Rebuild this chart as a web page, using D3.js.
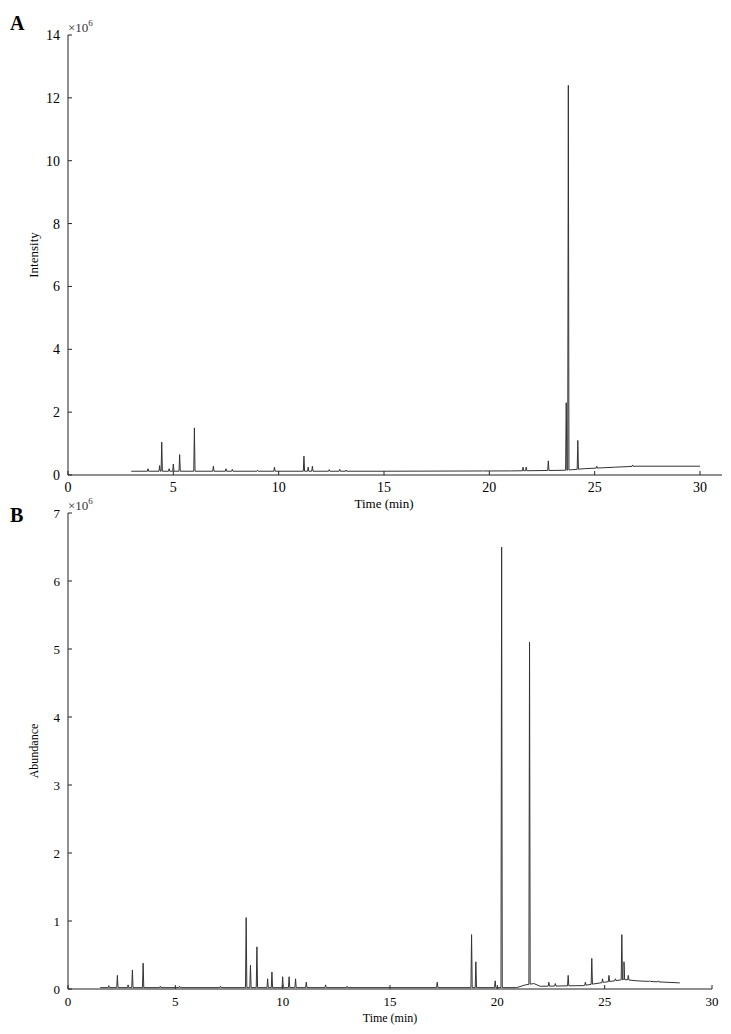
<!DOCTYPE html>
<html><head><meta charset="utf-8">
<script src="https://cdn.jsdelivr.net/npm/d3@7"></script>
<style>
body{margin:0;background:#fff;font-family:"Liberation Serif","DejaVu Serif",serif;}
text{font-family:"Liberation Serif",serif;}
</style></head><body>
<script>
// panel A: baseline points [time, value] and peaks [time, height] (x10^6)
var baseA = [[3.0,0.12],[15,0.12],[21,0.13],[23.6,0.15],[24.5,0.2],[26,0.25],[27,0.28],[30,0.28]];
var peaksA = [[3.8,0.2],[4.35,0.3],[4.45,1.05],[4.8,0.2],[5.0,0.35],[5.3,0.65],[6.0,1.5],[6.9,0.28],
  [7.5,0.2],[7.8,0.18],[9.0,0.15],[9.8,0.25],[11.2,0.6],[11.4,0.25],[11.6,0.28],[12.4,0.17],[12.9,0.18],[13.2,0.16],
  [19.7,0.14],[21.6,0.25],[21.75,0.25],[22.8,0.45],[23.65,2.3],[23.75,12.4],[24.2,1.1],[25.1,0.28],[26.8,0.32]];
// panel B
var baseB = [[1.5,0.02],[20.9,0.02],[21.3,0.06],[21.7,0.08],[22.0,0.04],[24.0,0.05],[25.0,0.1],[25.9,0.14],[26.5,0.12],[28.5,0.09]];
var peaksB = [[1.9,0.05],[2.3,0.2],[2.8,0.06],[3.0,0.28],[3.5,0.38],[4.3,0.04],[5.2,0.04],[7.1,0.04],[8.3,1.05],[8.5,0.35],[8.8,0.62],
  [9.3,0.15],[9.5,0.25],[10.0,0.18],[10.3,0.18],[10.6,0.15],[11.1,0.1],[12.0,0.06],[13.0,0.04],[17.2,0.1],
  [18.8,0.8],[19.0,0.4],[19.9,0.12],[20.2,6.5],[21.5,5.1],[22.4,0.1],[22.7,0.08],[23.3,0.2],[24.1,0.1],[24.4,0.45],
  [24.9,0.15],[25.2,0.2],[25.5,0.15],[25.8,0.8],[25.9,0.4],[26.1,0.2],[27.1,0.12],[27.5,0.12]];
var xTicks = [0,5,10,15,20,25,30];
var yTicksA = [0,2,4,6,8,10,12,14];
var yTicksB = [0,1,2,3,4,5,6,7];

var svg = d3.select("body").append("svg").attr("width",731).attr("height",1034);

function trace(base, peaks){
  var bl = d3.scaleLinear().domain(base.map(function(d){return d[0];})).range(base.map(function(d){return d[1];}));
  var pts = base.slice();
  peaks.forEach(function(p){
    var w = 0.03;
    pts.push([p[0]-w, bl(p[0]-w)],[p[0],p[1]],[p[0]+w, bl(p[0]+w)]);
  });
  pts.sort(function(a,b){return a[0]-b[0];});
  return pts;
}

function panel(o){
  var x = d3.scaleLinear().domain([0,30]).range([68,o.xr]);
  var y = d3.scaleLinear().domain([0,o.ymax]).range([o.y0,o.y1]);
  var g = svg.append("g");
  g.append("line").attr("x1",68).attr("x2",o.xend).attr("y1",o.y0).attr("y2",o.y0).attr("stroke","#222");
  g.append("line").attr("x1",68).attr("x2",68).attr("y1",o.y0).attr("y2",o.y1).attr("stroke","#222");
  xTicks.forEach(function(t){
    g.append("line").attr("x1",x(t)).attr("x2",x(t)).attr("y1",o.y0).attr("y2",o.y0-4).attr("stroke","#222");
    g.append("text").attr("x",x(t)).attr("y",o.y0+17).attr("text-anchor","middle").attr("font-size",o.fs).text(t);
  });
  o.yt.forEach(function(t){
    g.append("line").attr("x1",68).attr("x2",72).attr("y1",y(t)).attr("y2",y(t)).attr("stroke","#222");
    g.append("text").attr("x",60).attr("y",y(t)+5).attr("text-anchor","end").attr("font-size",o.fs).text(t);
  });
  var ex = g.append("text").attr("x",68).attr("y",o.y1-3).attr("font-size",13).attr("fill","#333");
  ex.append("tspan").text("\u00d710");
  ex.append("tspan").attr("dy",-6).attr("font-size",9).text("6");
  g.append("text").attr("x",(68+o.xr)/2).attr("y",o.y0+33).attr("text-anchor","middle").attr("font-size",o.fs-1).text("Time (min)");
  g.append("text").attr("transform","translate(38,"+((o.y0+o.y1)/2)+") rotate(-90)").attr("text-anchor","middle").attr("font-size",o.fs-1).text(o.ylab);
  g.append("text").attr("x",10).attr("y",o.tagY).attr("font-weight","bold").attr("font-size",20).text(o.tag);
  g.append("path").datum(trace(o.base,o.peaks)).attr("fill","none").attr("stroke","#333").attr("stroke-width",1)
    .attr("d",d3.line().x(function(d){return x(d[0]);}).y(function(d){return y(d[1]);}));
}

panel({tag:"A",tagY:30,ylab:"Intensity",xr:700,xend:722,y0:475,y1:35,ymax:14,yt:yTicksA,base:baseA,peaks:peaksA,fs:14});
panel({tag:"B",tagY:522,ylab:"Abundance",xr:712,xend:712,y0:989,y1:513,ymax:7,yt:yTicksB,base:baseB,peaks:peaksB,fs:13});
</script>
</body></html>
